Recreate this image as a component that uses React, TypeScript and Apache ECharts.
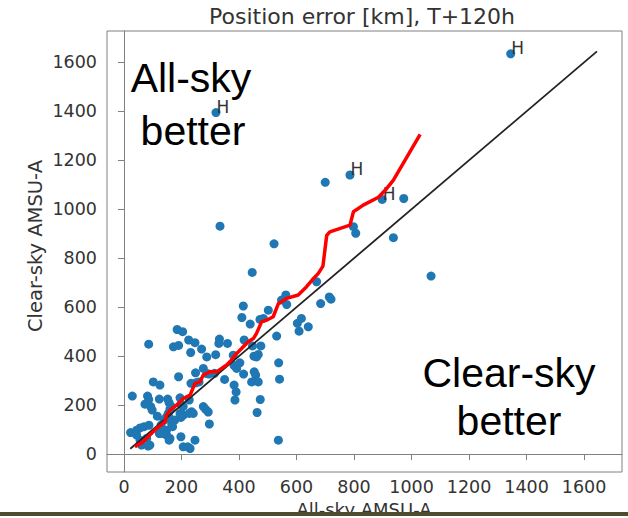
import React, { useEffect, useRef } from "react";
import * as echarts from "echarts";

const chartTitle = "Position error [km], T+120h";
const xName = "All-sky AMSU-A";
const yName = "Clear-sky AMSU-A";
const xTicks = [0, 200, 400, 600, 800, 1000, 1200, 1400, 1600];
const yTicks = [0, 200, 400, 600, 800, 1000, 1200, 1400, 1600];

const cases: [number, number][] = [
  [700, 1110], [973, 1044], [937, 884], [1068, 727], [798, 929], [806, 902],
  [334, 931], [522, 859], [446, 742], [670, 704], [684, 615], [714, 642], [720, 633],
  [563, 650], [548, 629], [566, 611], [502, 588], [415, 605], [410, 558], [439, 531],
  [485, 554], [473, 550], [617, 554], [603, 534], [609, 502], [641, 520], [531, 482],
  [538, 373], [541, 306], [537, 57],
  [86, 449], [185, 509], [204, 500], [172, 438], [190, 444], [225, 466], [247, 455],
  [270, 429], [232, 415], [288, 397], [319, 406], [332, 470], [330, 452], [360, 452],
  [418, 466], [447, 442], [476, 442], [452, 400], [461, 397], [467, 407], [403, 373], [383, 362],
  [392, 350], [380, 404], [416, 327], [453, 336], [458, 323], [444, 295], [467, 295], [350, 305],
  [383, 282], [390, 254], [386, 221], [474, 223], [463, 170], [276, 350], [249, 332],
  [190, 316], [261, 295], [233, 289], [250, 291], [102, 295], [125, 282], [29, 237],
  [82, 237], [86, 223], [73, 204], [98, 180], [123, 225], [152, 225], [157, 210],
  [165, 194], [160, 184], [195, 230], [198, 204], [206, 194], [227, 221], [235, 173],
  [227, 166], [241, 166], [195, 166], [206, 159], [198, 150], [154, 166], [148, 152],
  [160, 145], [116, 155], [177, 139], [166, 123], [169, 112], [276, 194], [284, 183],
  [293, 172], [297, 123], [247, 57], [198, 71], [206, 30], [230, 23], [222, 30],
  [148, 98], [137, 84], [148, 78], [160, 64], [157, 57], [131, 105], [123, 84],
  [23, 88], [44, 98], [56, 107], [70, 112], [87, 118], [56, 57], [79, 64], [90, 37],
  [61, 37], [84, 33], [44, 78], [129, 118], [139, 139], [288, 329], [296, 327], [315, 330],
  [93, 194],
];

const labelledCases: [number, number][] = [
  [1345, 1635], [320, 1395], [786, 1140], [898, 1040],
];

const runningMean: [number, number][] = [
  [38, 30], [67, 50], [90, 78], [113, 105], [143, 132], [148, 159], [160, 180],
  [183, 200], [206, 227], [230, 241], [247, 289], [264, 295], [276, 323], [299, 336],
  [322, 336], [357, 364], [374, 384], [386, 404], [409, 431], [432, 459], [450, 472],
  [461, 493], [479, 541], [496, 547], [519, 561], [537, 615], [566, 636], [606, 650],
  [635, 684], [655, 712], [676, 738], [692, 768], [705, 893], [716, 908], [786, 935],
  [798, 990], [832, 1017], [885, 1049], [914, 1085], [937, 1119], [1030, 1306],
];

const diagonal: [number, number][] = [[22, 22], [1645, 1645]];

export default function App() {
  const ref = useRef<HTMLDivElement>(null);
  useEffect(() => {
    if (!ref.current) return;
    const chart = echarts.init(ref.current, undefined, { renderer: "svg" });
    const tickFont = {
      fontFamily: "DejaVu Sans", fontSize: 17.5, color: "#333", lineHeight: 14,
      formatter: (v: number) => String(v),
    };
    const bigText = (text: string, x: number, y: number) => ({
      type: "text", x, y, z: 10,
      style: { text, font: "41px 'Liberation Sans'", lineHeight: 31, fill: "#000", align: "center", verticalAlign: "middle" },
    });
    chart.setOption({
      animation: false,
      backgroundColor: "#fff",
      grid: {
        left: 107, top: 31, width: 515, height: 441,
        show: true, borderColor: "#808080", borderWidth: 1, backgroundColor: "transparent",
      },
      xAxis: {
        type: "value", min: -59, max: 1732,
        axisLine: { show: true, lineStyle: { color: "#808080", width: 1 } },
        axisTick: { show: true, length: 6, lineStyle: { color: "#808080" }, customValues: xTicks },
        axisLabel: { ...tickFont, margin: 8, customValues: xTicks },
        splitLine: { show: false },
      },
      yAxis: {
        type: "value", min: -73, max: 1728,
        axisLine: { show: true, lineStyle: { color: "#808080", width: 1 } },
        axisTick: { show: true, length: 6, lineStyle: { color: "#808080" }, customValues: yTicks },
        axisLabel: { ...tickFont, margin: 10, customValues: yTicks },
        splitLine: { show: false },
      },
      series: [
        {
          type: "scatter", data: cases, symbolSize: 9, z: 2,
          itemStyle: { color: "#1f77b4", opacity: 1 },
        },
        {
          type: "scatter", data: labelledCases, symbolSize: 9, z: 2,
          itemStyle: { color: "#1f77b4", opacity: 1 },
          label: {
            show: true, formatter: "H", position: [5, 5], align: "left", verticalAlign: "bottom",
            fontFamily: "DejaVu Sans", fontSize: 17, lineHeight: 12, color: "#333",
          },
        },
        {
          type: "line", data: diagonal, symbol: "none", z: 3,
          lineStyle: { color: "#222", width: 1.8 },
        },
        {
          type: "line", data: runningMean, symbol: "none", z: 4,
          lineStyle: { color: "#ff0000", width: 3.5 },
        },
      ],
      graphic: [
        { type: "text", x: 362, y: 16.4, z: 10, style: { text: chartTitle, font: "22px 'DejaVu Sans'", fill: "#333", align: "center", verticalAlign: "middle" } },
        { type: "text", x: 35, y: 246, rotation: Math.PI / 2, z: 10, style: { text: yName, font: "19.5px 'DejaVu Sans'", fill: "#333", align: "center", verticalAlign: "middle" } },
        { type: "text", x: 364, y: 509, z: 10, style: { text: xName, font: "18px 'DejaVu Sans'", lineHeight: 16, fill: "#333", align: "center", verticalAlign: "middle" } },
        bigText("All-sky", 191, 77.8),
        bigText("better", 193, 130.8),
        bigText("Clear-sky", 509, 372.8),
        bigText("better", 509, 420.8),
        { type: "rect", z: 20, shape: { x: 0, y: 512, width: 628, height: 4 }, style: { fill: "#4e4d2b" } },
        { type: "rect", z: 20, shape: { x: 0, y: 516, width: 628, height: 2 }, style: { fill: "#fff" } },
      ],
    });
    return () => chart.dispose();
  }, []);
  return (
    <div
      ref={ref}
      style={{ position: "absolute", left: 0, top: 0, width: 628, height: 518, background: "#fff" }}
    />
  );
}
